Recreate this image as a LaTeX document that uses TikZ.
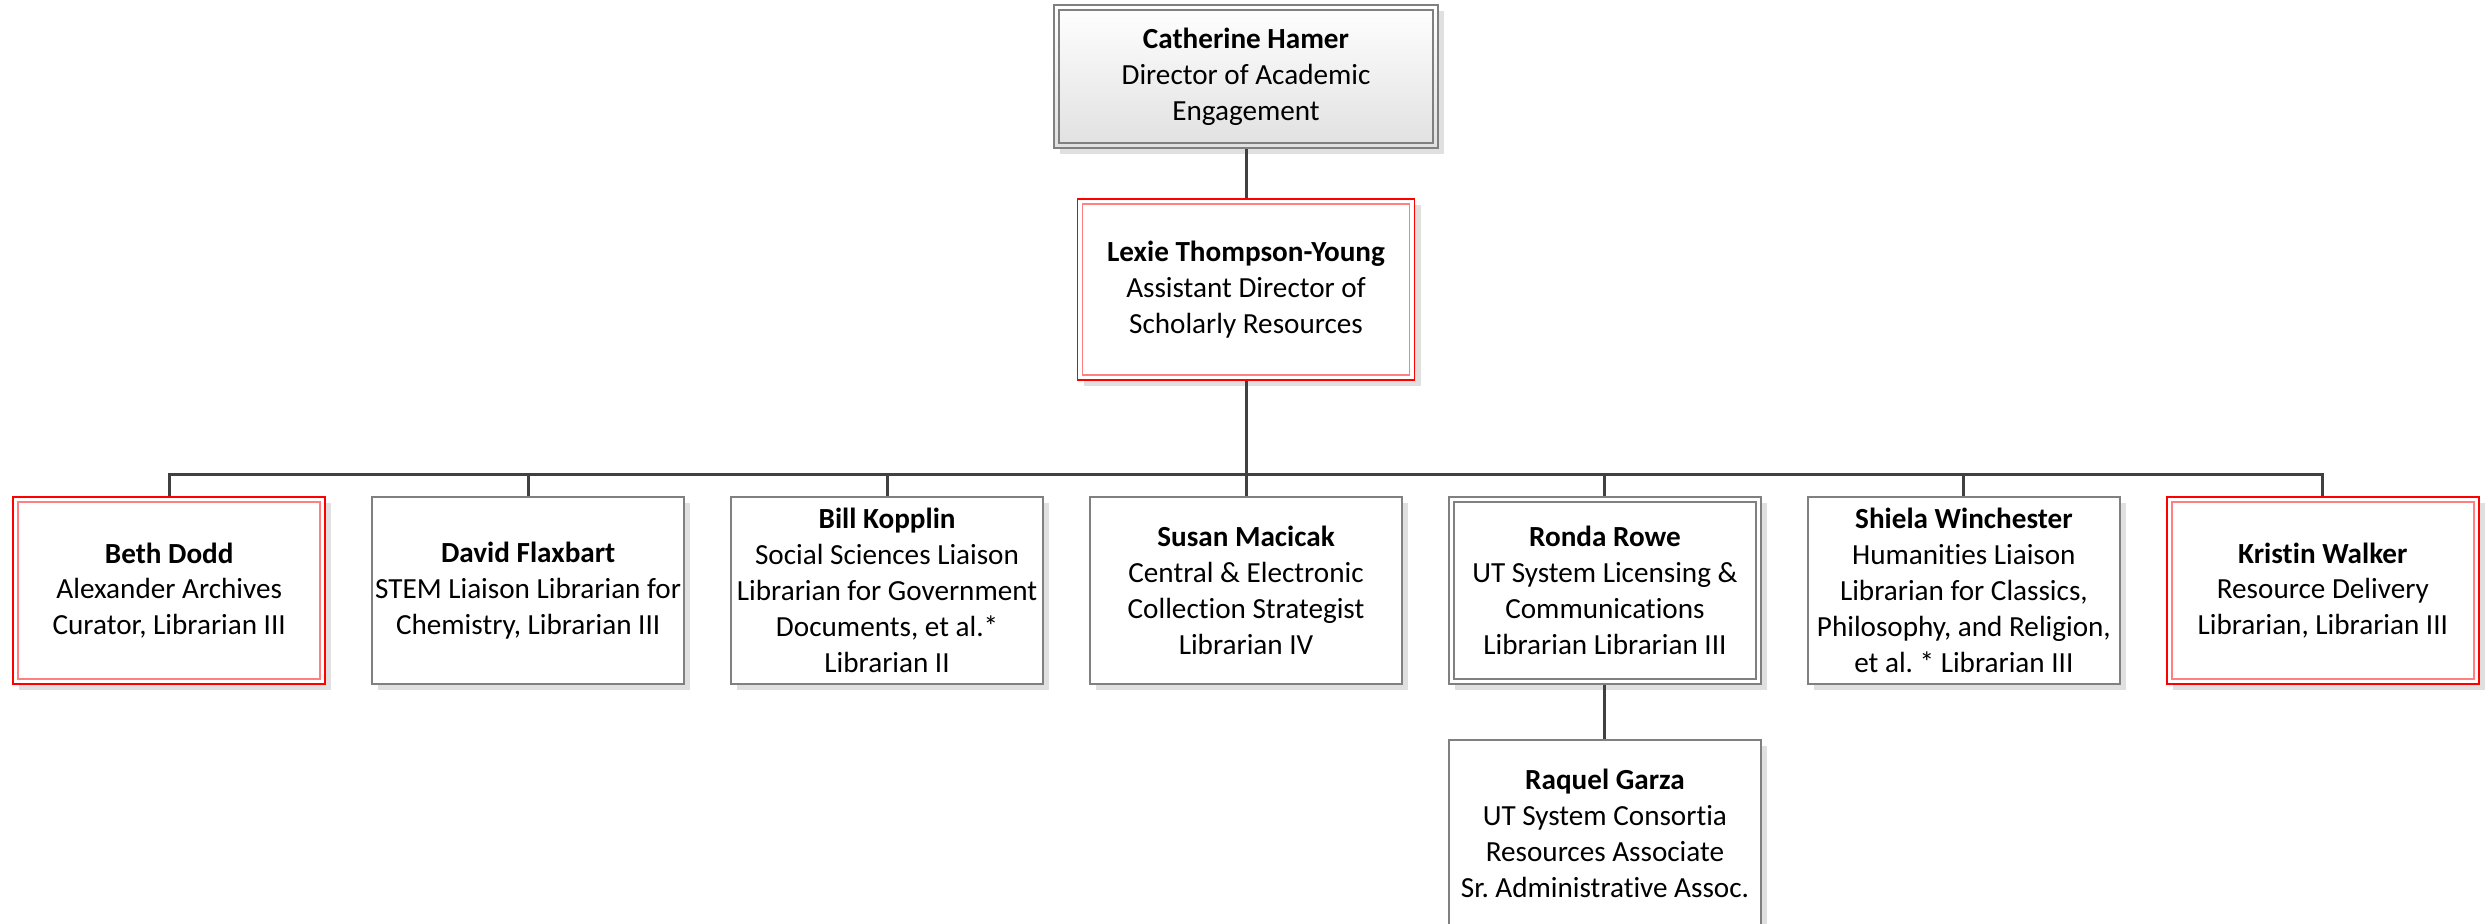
\documentclass[tikz,border=0pt]{standalone}
\usepackage{fontspec}
\setmainfont[Ligatures=NoCommon]{Carlito}
\usetikzlibrary{positioning,shadows}
\frenchspacing

\begin{document}
\begin{tikzpicture}[
    node distance=0.45cm,
    font=\fontsize{8.3}{10.2}\selectfont,
    base/.style={rectangle, fill=white, align=center, inner sep=0pt, line width=0.55pt, minimum width=3.12cm, minimum height=1.87cm, drop shadow={shadow xshift=0.06cm, shadow yshift=-0.06cm, fill=black!12, opacity=1}},
    inner/.style={path picture={\draw[#1, line width=0.55pt] ([shift={(0.05,-0.05)}]path picture bounding box.north west) rectangle ([shift={(-0.05,0.05)}]path picture bounding box.south east);}},
    plainbox/.style={base, draw=black!50},
    greybox/.style={base, draw=black!50, inner=black!50},
    redbox/.style={base, draw=red, inner=red!50},
    headbox/.style={greybox, top color=white, bottom color=black!12, minimum width=3.84cm, minimum height=1.43cm},
    link/.style={draw=black!75, line width=0.85pt}
]
    \useasboundingbox (0,0) rectangle (24.92,-9.23);

    \node [headbox] (n1) at (12.46,-0.765) {\textbf{Catherine Hamer}\\Director of Academic\\Engagement};
    \node [redbox, below=0.49cm of n1, minimum width=3.37cm, minimum height=1.81cm] (n2) {\textbf{Lexie Thompson-Young}\\Assistant Director of\\Scholarly Resources};

    % staff row
    \node [plainbox] (b4) at (12.46,-5.905) {\textbf{Susan Macicak}\\Central \& Electronic\\Collection Strategist\\Librarian IV};
    \node [plainbox, left=of b4] (b3) {\textbf{Bill Kopplin}\\Social Sciences Liaison\\Librarian for Government\\Documents, et al.*\\Librarian II};
    \node [plainbox, left=of b3] (b2) {\textbf{David Flaxbart}\\STEM Liaison Librarian for\\Chemistry, Librarian III};
    \node [redbox, left=of b2] (b1) {\textbf{Beth Dodd}\\Alexander Archives\\Curator, Librarian III};
    \node [greybox, right=of b4] (b5) {\textbf{Ronda Rowe}\\UT System Licensing \&\\Communications\\Librarian Librarian III};
    \node [plainbox, right=of b5] (b6) {\textbf{Shiela Winchester}\\Humanities Liaison\\Librarian for Classics,\\Philosophy, and Religion,\\et al. * Librarian III};
    \node [redbox, right=of b6] (b7) {\textbf{Kristin Walker}\\Resource Delivery\\Librarian, Librarian III};

    \node [plainbox, below=0.54cm of b5] (b8) {\textbf{Raquel Garza}\\UT System Consortia\\Resources Associate\\Sr. Administrative Assoc.};

    \coordinate [below=0.94cm of n2.south] (bus);

    \draw [link] (n1) -- (n2);
    \draw [link] (n2) -- (bus);
    \draw [link] (bus) -| (b1);
    \draw [link] (bus) -| (b2);
    \draw [link] (bus) -| (b3);
    \draw [link] (bus) -- (b4);
    \draw [link] (bus) -| (b5);
    \draw [link] (bus) -| (b6);
    \draw [link] (bus) -| (b7);
    \draw [link] (b5) -- (b8);
\end{tikzpicture}
\end{document}
